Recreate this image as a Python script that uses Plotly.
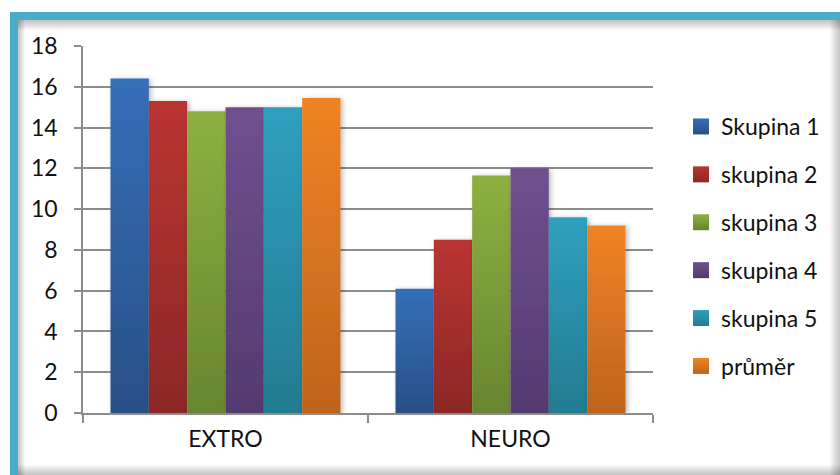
import plotly.graph_objects as go

# Survey scores per group on two personality scales
categories = ["EXTRO", "NEURO"]
series_names = ["Skupina 1", "skupina 2", "skupina 3", "skupina 4", "skupina 5", "průměr"]
skupina_1 = [16.4, 6.1]
skupina_2 = [15.3, 8.5]
skupina_3 = [14.8, 11.65]
skupina_4 = [15.0, 12.0]
skupina_5 = [15.0, 9.6]
prumer = [15.45, 9.2]
y_ticks = [0, 2, 4, 6, 8, 10, 12, 14, 16, 18]

series_values = [skupina_1, skupina_2, skupina_3, skupina_4, skupina_5, prumer]

# top / bottom shades of each bar gradient
top_colors = ["#356FB8", "#BA3431", "#8CB140", "#71508F", "#2FA0BF", "#F08324"]
bottom_colors = ["#294F86", "#8B2827", "#688530", "#533A70", "#237B91", "#BE631D"]
mid_colors = ["#2F5F9F", "#A32E2C", "#7A9B38", "#62457F", "#298DA8", "#D77320"]

W, H = 840, 475
ML, MR, MT, MB = 83, 187, 46, 62
PW, PH = W - ML - MR, H - MT - MB


def px(x):
    return (x - ML) / PW


def py(y):
    return (H - MB - y) / PH


FONT = "Lato, 'Open Sans', sans-serif"
FS = 23

fig = go.Figure()
for name, vals, col in zip(series_names, series_values, mid_colors):
    fig.add_trace(go.Bar(
        x=categories, y=vals, name=name,
        marker=dict(color=col, line=dict(width=0)),
        legendgroup=name,
    ))

shapes = []
teal = "#4AADC7"
# soft inner shading along the edges of the frame
for k in range(1, 11):
    fill = "rgba(0,0,0,0.022)"
    shapes.append(dict(type="rect", xref="paper", yref="paper", layer="above",
                       x0=px(18), x1=px(W + 5), y0=py(20), y1=py(20 + k),
                       line=dict(width=0), fillcolor=fill))
    shapes.append(dict(type="rect", xref="paper", yref="paper", layer="above",
                       x0=px(18), x1=px(W + 5), y0=py(H - k), y1=py(H + 5),
                       line=dict(width=0), fillcolor=fill))
    shapes.append(dict(type="rect", xref="paper", yref="paper", layer="above",
                       x0=px(W - k), x1=px(W + 5), y0=py(20), y1=py(H + 5),
                       line=dict(width=0), fillcolor=fill))
    shapes.append(dict(type="rect", xref="paper", yref="paper", layer="above",
                       x0=px(18), x1=px(18 + 0.7 * k), y0=py(20), y1=py(H + 5),
                       line=dict(width=0), fillcolor=fill))
# teal frame
shapes.append(dict(type="rect", xref="paper", yref="paper", layer="above",
                   x0=px(14), x1=px(W + 20), y0=py(16), y1=py(H + 20),
                   line=dict(width=8, color=teal), fillcolor="rgba(0,0,0,0)"))

grid_col = "#8C8C8C"
fig.update_layout(
    width=W, height=H,
    margin=dict(l=ML, r=MR, t=MT, b=MB, pad=0),
    paper_bgcolor="white", plot_bgcolor="white",
    barmode="group", bargap=0.193, bargroupgap=0,
    font=dict(family=FONT, size=FS, color="#111111"),
    showlegend=True,
    legend=dict(x=px(681), xanchor="left", y=py(105), yanchor="top",
                font=dict(size=FS, family=FONT, color="#111111"),
                tracegroupgap=15, traceorder="grouped",
                bgcolor="rgba(0,0,0,0)", borderwidth=0),
    shapes=shapes,
    xaxis=dict(showline=True, linecolor=grid_col, linewidth=1.5,
               ticks="outside", tickson="boundaries", ticklen=8,
               tickcolor=grid_col, tickwidth=1.5,
               tickfont=dict(size=FS), ticklabelstandoff=5),
    yaxis=dict(range=[0, 18], tickvals=y_ticks, showline=True,
               linecolor=grid_col, linewidth=1.5,
               ticks="outside", ticklen=7, tickcolor=grid_col, tickwidth=1.5,
               showgrid=True, gridcolor=grid_col, gridwidth=1.5,
               zeroline=False, tickfont=dict(size=FS), ticklabelstandoff=12),
)

post = """
var gd = document.getElementById('{plot_id}');
var tops = %s, bots = %s;
function decorate() {
  var svg = gd.querySelector('svg.main-svg');
  if (!svg) return;
  var NS = 'http://www.w3.org/2000/svg';
  var defs = svg.querySelector('defs');
  if (!defs) { defs = document.createElementNS(NS, 'defs'); svg.insertBefore(defs, svg.firstChild); }
  if (!svg.querySelector('#barshade')) {
    var f = document.createElementNS(NS, 'filter');
    f.setAttribute('id', 'barshade');
    f.setAttribute('x', '-20%%'); f.setAttribute('y', '-20%%');
    f.setAttribute('width', '150%%'); f.setAttribute('height', '140%%');
    var d = document.createElementNS(NS, 'feDropShadow');
    d.setAttribute('dx', '2'); d.setAttribute('dy', '1');
    d.setAttribute('stdDeviation', '2.5');
    d.setAttribute('flood-color', '#000'); d.setAttribute('flood-opacity', '0.28');
    f.appendChild(d); defs.appendChild(f);
    for (var i = 0; i < tops.length; i++) {
      var g = document.createElementNS(NS, 'linearGradient');
      g.setAttribute('id', 'bargrad' + i);
      g.setAttribute('x1', '0'); g.setAttribute('y1', '0');
      g.setAttribute('x2', '0'); g.setAttribute('y2', '1');
      var s1 = document.createElementNS(NS, 'stop');
      s1.setAttribute('offset', '0'); s1.setAttribute('stop-color', tops[i]);
      var s2 = document.createElementNS(NS, 'stop');
      s2.setAttribute('offset', '1'); s2.setAttribute('stop-color', bots[i]);
      g.appendChild(s1); g.appendChild(s2); defs.appendChild(g);
    }
  }
  var traces = gd.querySelectorAll('.barlayer .trace.bars');
  traces.forEach(function (t, i) {
    t.querySelectorAll('path').forEach(function (p) {
      p.style.fill = 'url(#bargrad' + i + ')';
    });
    t.style.filter = 'url(#barshade)';
  });
  var leg = gd.querySelectorAll('.legend .traces');
  leg.forEach(function (t, i) {
    t.querySelectorAll('.legendpoints path').forEach(function (p) {
      p.style.fill = 'url(#bargrad' + i + ')';
      p.setAttribute('d', 'M8,8H-8V-8H8Z');
    });
  });
}
decorate();
gd.on('plotly_afterplot', decorate);
""" % (str(top_colors), str(bottom_colors))

fig.write_html("out.html", post_script=post)
